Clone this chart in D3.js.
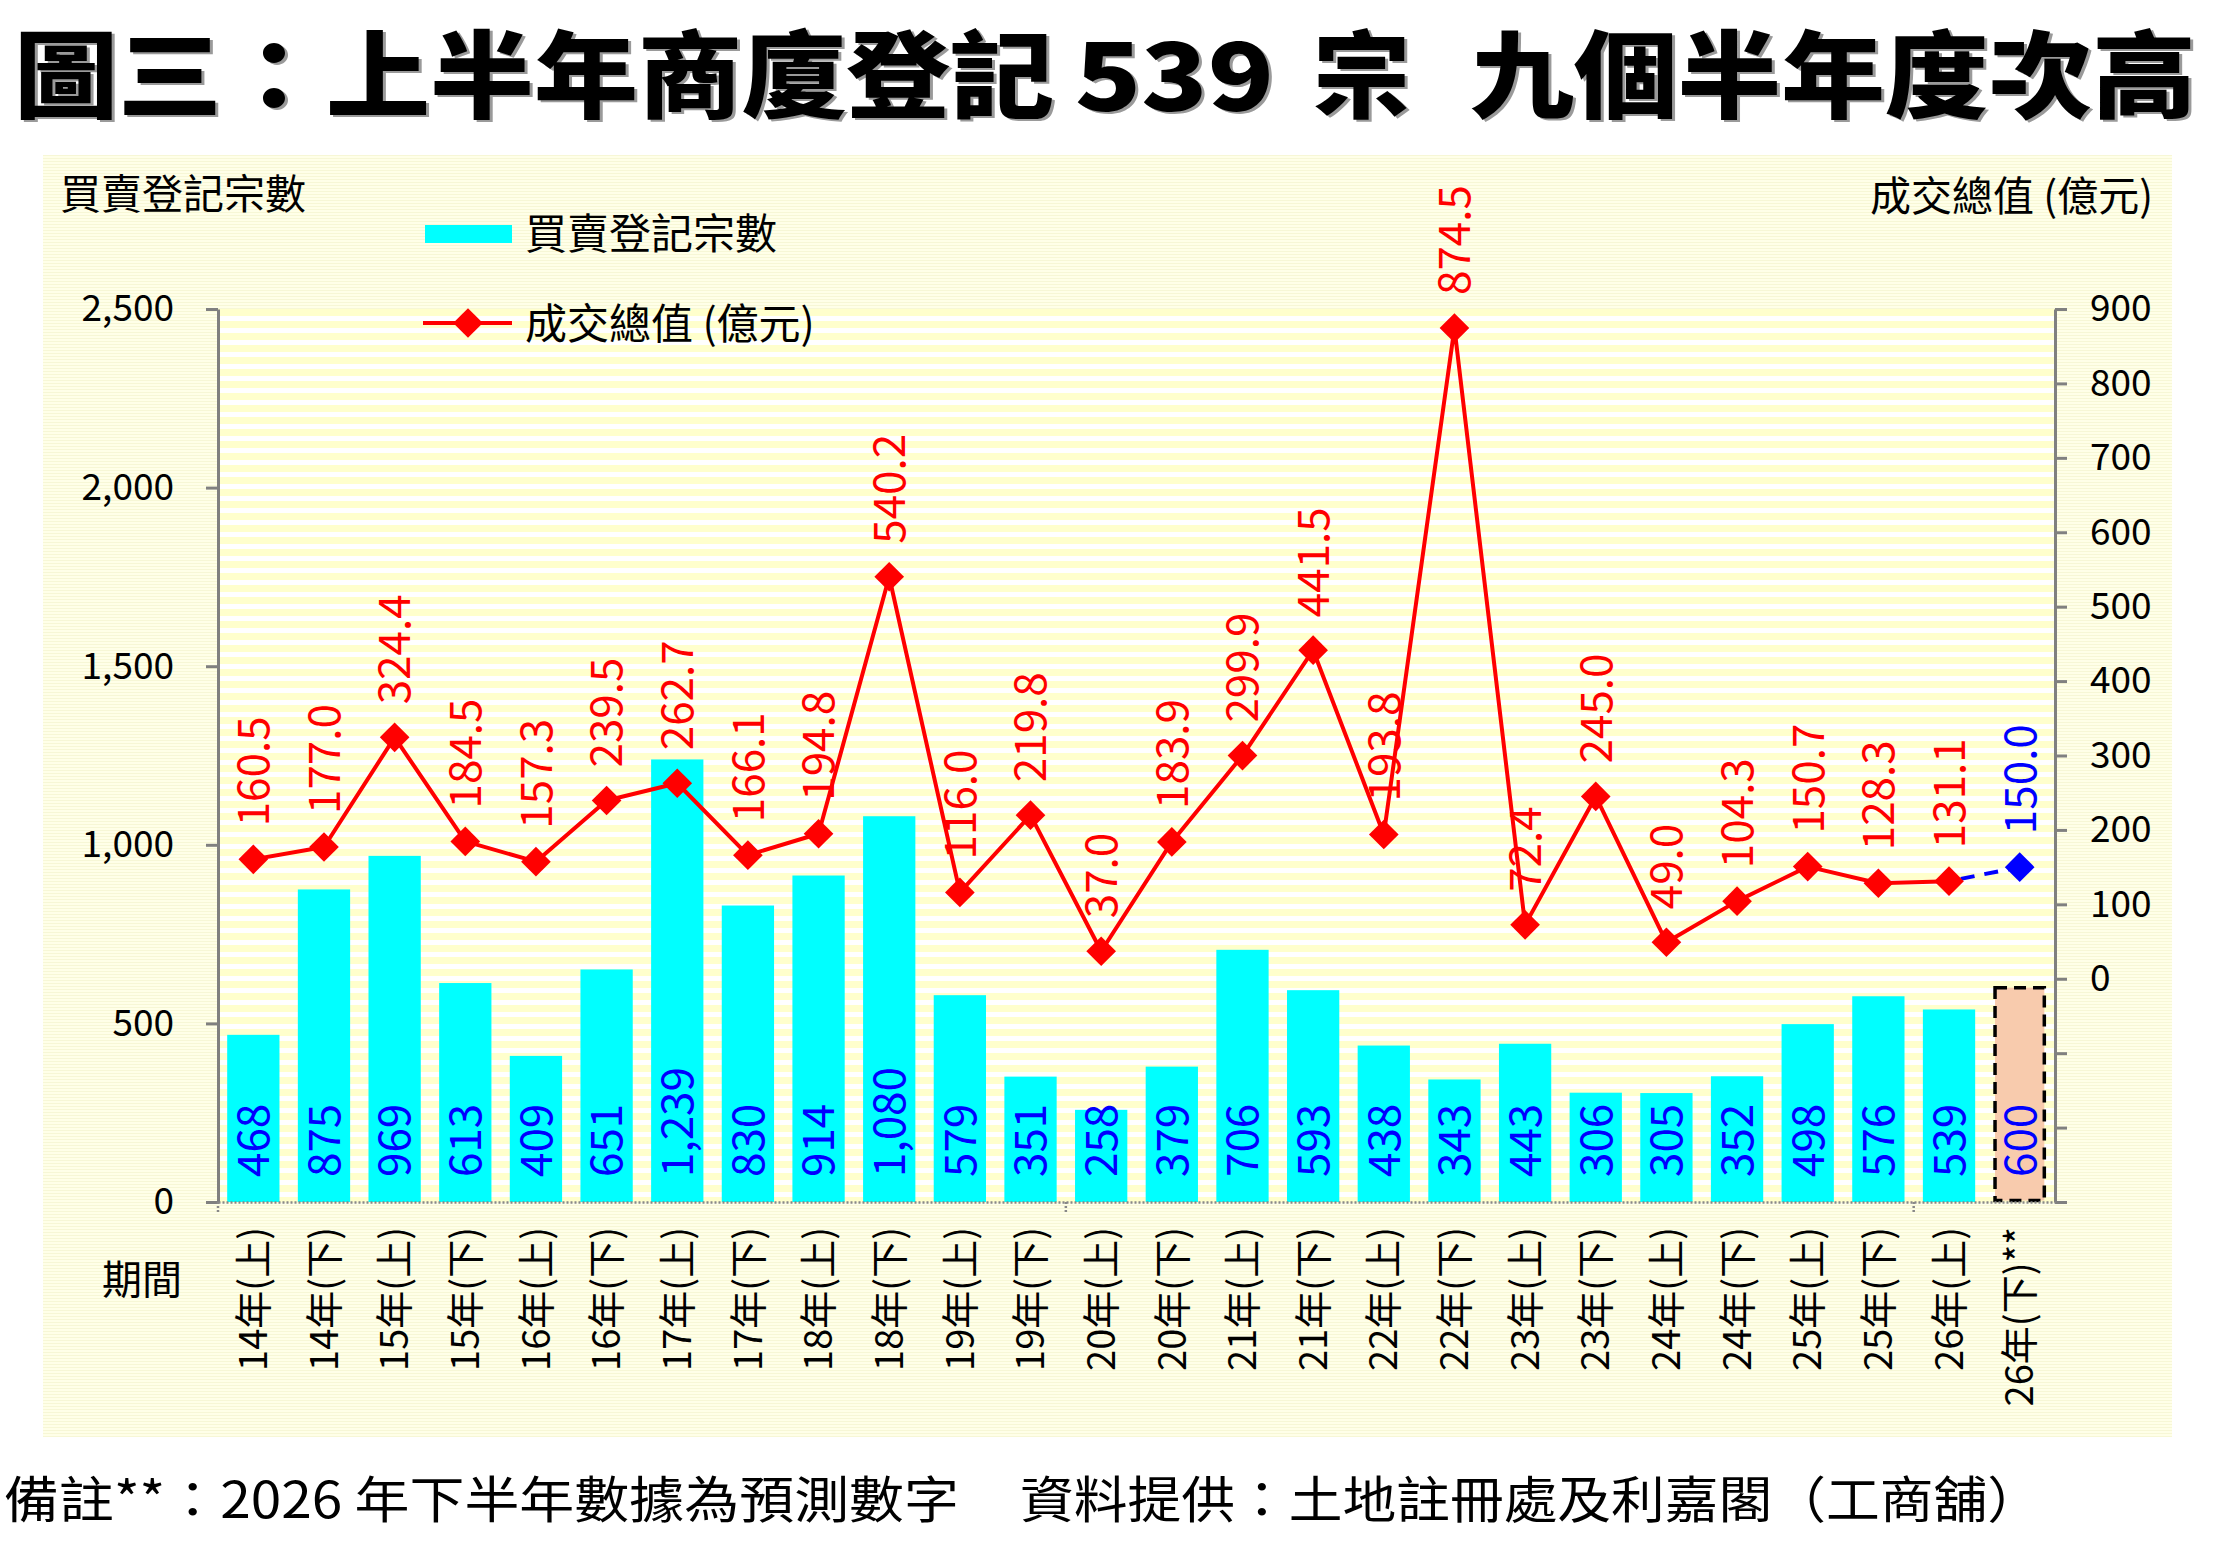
<!DOCTYPE html>
<html>
<head>
<meta charset="utf-8">
<script src="https://cdn.jsdelivr.net/npm/d3@7"></script>
<style>
  body { margin: 0; background: #fff; }
  svg { display: block; }
  text { font-family: "Noto Sans CJK TC", "Noto Sans", sans-serif; }
</style>
</head>
<body>
<svg id="chart" width="2215" height="1541"></svg>
<script>
// data (last entry = forecast)
const periods = ['14年(上)','14年(下)','15年(上)','15年(下)','16年(上)','16年(下)','17年(上)','17年(下)',
  '18年(上)','18年(下)','19年(上)','19年(下)','20年(上)','20年(下)','21年(上)','21年(下)',
  '22年(上)','22年(下)','23年(上)','23年(下)','24年(上)','24年(下)','25年(上)','25年(下)',
  '26年(上)','26年(下)**'];
const deals = [468, 875, 969, 613, 409, 651, 1239, 830, 914, 1080, 579, 351, 258, 379, 706, 593,
  438, 343, 443, 306, 305, 352, 498, 576, 539, 600];
const values = [160.5, 177.0, 324.4, 184.5, 157.3, 239.5, 262.7, 166.1, 194.8, 540.2, 116.0, 219.8,
  37.0, 183.9, 299.9, 441.5, 193.8, 874.5, 72.4, 245.0, 49.0, 104.3, 150.7, 128.3, 131.1, 150.0];
const leftTicks = [0, 500, 1000, 1500, 2000, 2500];
const rightTicks = [-300, -200, -100, 0, 100, 200, 300, 400, 500, 600, 700, 800, 900];
const minorTickBands = [0, 12, 24];

const plot = {left: 218, right: 2055, top: 309, bottom: 1202};
const svg = d3.select('#chart');
const last = periods.length - 1;

// background patterns
const defs = svg.append('defs');
const pp = defs.append('pattern').attr('id', 'panelFill')
  .attr('width', 8).attr('height', 3).attr('patternUnits', 'userSpaceOnUse');
pp.append('rect').attr('width', 8).attr('height', 3).attr('fill', '#FFFFE8');
pp.append('rect').attr('y', 2).attr('width', 8).attr('height', 1).attr('fill', '#F7F7D6');

const sp = defs.append('pattern').attr('id', 'plotFill')
  .attr('width', 8).attr('height', 12).attr('y', plot.top).attr('patternUnits', 'userSpaceOnUse');
sp.append('rect').attr('width', 8).attr('height', 12).attr('fill', '#FFFFFF');
sp.append('rect').attr('width', 8).attr('height', 7).attr('fill', '#FFFFCC');

svg.append('rect').attr('x', 43).attr('y', 155).attr('width', 2129).attr('height', 1282)
  .attr('fill', 'url(#panelFill)');
svg.append('rect').attr('x', plot.left).attr('y', plot.top)
  .attr('width', plot.right - plot.left).attr('height', plot.bottom - plot.top)
  .attr('fill', 'url(#plotFill)');

// scales
const x = d3.scaleBand().domain(periods).range([plot.left, plot.right])
  .paddingInner(0.26).paddingOuter(0.13);
const yL = d3.scaleLinear().domain([0, 2500]).range([plot.bottom, plot.top]);
const yR = d3.scaleLinear().domain([-300, 900]).range([plot.bottom, plot.top]);
const cx = p => x(p) + x.bandwidth() / 2;

// bars
svg.append('g').selectAll('rect').data(deals.slice(0, last)).join('rect')
  .attr('x', (d, i) => x(periods[i]))
  .attr('y', d => yL(d))
  .attr('width', x.bandwidth())
  .attr('height', d => yL(0) - yL(d))
  .attr('fill', '#00FFFF');

svg.append('rect')
  .attr('x', x(periods[last]) + 1.5)
  .attr('y', yL(deals[last]))
  .attr('width', x.bandwidth() - 3)
  .attr('height', yL(0) - yL(deals[last]) - 1.5)
  .attr('fill', '#F8CBAD')
  .attr('stroke', '#000').attr('stroke-width', 3.5).attr('stroke-dasharray', '12,7');

svg.append('g').selectAll('text').data(deals).join('text')
  .attr('transform', (d, i) => `translate(${cx(periods[i])},${yL(0) - 25}) rotate(-90)`)
  .attr('dy', '0.36em')
  .attr('font-size', 44)
  .attr('fill', '#0000FF')
  .text(d => d3.format(',')(d));

// axes
const styleAxis = g => {
  g.select('.domain').attr('stroke', '#808080').attr('stroke-width', 3);
  g.selectAll('.tick line').attr('stroke', '#808080').attr('stroke-width', 3);
  g.selectAll('.tick text').attr('font-size', 37).attr('fill', '#000');
};

svg.append('g').attr('transform', `translate(${plot.left},0)`)
  .call(d3.axisLeft(yL).tickValues(leftTicks).tickFormat(d3.format(','))
    .tickSizeInner(12).tickSizeOuter(0).tickPadding(32))
  .call(styleAxis);

svg.append('g').attr('transform', `translate(${plot.right},0)`)
  .call(d3.axisRight(yR).tickValues(rightTicks).tickFormat(d => d >= 0 ? d : '')
    .tickSizeInner(12).tickSizeOuter(0).tickPadding(23))
  .call(styleAxis);

const axX = svg.append('g').attr('transform', `translate(0,${plot.bottom})`)
  .call(d3.axisBottom(x).tickSize(0).tickPadding(0));
axX.select('.domain').attr('stroke', '#888').attr('stroke-width', 2.5).attr('stroke-dasharray', '2,2');
axX.selectAll('.tick text')
  .attr('transform', 'rotate(-90)')
  .attr('x', -25).attr('y', 0).attr('dy', '0.36em')
  .attr('text-anchor', 'end')
  .attr('font-size', 38)
  .attr('fill', '#000');

svg.append('g').selectAll('line').data(minorTickBands).join('line')
  .attr('x1', i => x.range()[0] + i * x.step())
  .attr('x2', i => x.range()[0] + i * x.step())
  .attr('y1', plot.bottom).attr('y2', plot.bottom + 12)
  .attr('stroke', '#888').attr('stroke-width', 2.5).attr('stroke-dasharray', '2,2');

// value line
const pts = periods.map((p, i) => ({p, v: values[i]}));
const line = d3.line().x(d => cx(d.p)).y(d => yR(d.v));

svg.append('path').datum(pts.slice(last - 1)).attr('d', line)
  .attr('fill', 'none').attr('stroke', '#0000FF').attr('stroke-width', 4)
  .attr('stroke-dasharray', '14,10').attr('stroke-dashoffset', -12);
svg.append('path').datum(pts.slice(0, last)).attr('d', line)
  .attr('fill', 'none').attr('stroke', '#FF0000').attr('stroke-width', 4)
  .attr('stroke-linejoin', 'round');

const diamond = d3.symbol().type(d3.symbolSquare).size(440);
svg.append('g').selectAll('path').data(pts).join('path')
  .attr('d', diamond)
  .attr('transform', d => `translate(${cx(d.p)},${yR(d.v)}) rotate(45)`)
  .attr('fill', (d, i) => i === last ? '#0000FF' : '#FF0000');

svg.append('g').selectAll('text').data(pts).join('text')
  .attr('transform', d => `translate(${cx(d.p)},${yR(d.v) - 33}) rotate(-90)`)
  .attr('dy', '0.36em')
  .attr('font-size', 44)
  .attr('fill', (d, i) => i === last ? '#0000FF' : '#FF0000')
  .text(d => d3.format('.1f')(d.v));

// axis titles
svg.append('text').attr('x', 60).attr('y', 209).attr('font-size', 41).text('買賣登記宗數');
svg.append('text').attr('x', 2153).attr('y', 211).attr('font-size', 41)
  .attr('text-anchor', 'end').text('成交總值 (億元)');
svg.append('text').attr('x', 142).attr('y', 1294).attr('font-size', 40)
  .attr('text-anchor', 'middle').text('期間');

// legend
const lg = svg.append('g');
lg.append('rect').attr('x', 425).attr('y', 225).attr('width', 87).attr('height', 18).attr('fill', '#00FFFF');
lg.append('text').attr('x', 525).attr('y', 249).attr('font-size', 42).text('買賣登記宗數');
lg.append('line').attr('x1', 423).attr('x2', 512).attr('y1', 323).attr('y2', 323)
  .attr('stroke', '#FF0000').attr('stroke-width', 4);
lg.append('path').attr('d', diamond).attr('transform', 'translate(468,323) rotate(45)').attr('fill', '#FF0000');
lg.append('text').attr('x', 525).attr('y', 339).attr('font-size', 42).text('成交總值 (億元)');

// title
const titleParts = [
  {t: '圖三：上半年商廈登記', x: 14, len: 1040},
  {t: '539', x: 1075, len: 199},
  {t: '宗', x: 1313, len: 97},
  {t: '九個半年度次高', x: 1470, len: 726}
];
[{dx: 3, dy: 2, c: '#9a9a9a'}, {dx: 0, dy: 0, c: '#000'}].forEach(s => {
  svg.append('g').selectAll('text').data(titleParts).join('text')
    .attr('x', d => d.x + s.dx).attr('y', 111 + s.dy)
    .attr('font-size', 95).attr('font-weight', 900)
    .attr('textLength', d => d.len).attr('lengthAdjust', 'spacingAndGlyphs')
    .attr('fill', s.c)
    .text(d => d.t);
});

// footer
svg.append('text').attr('x', 4).attr('y', 1518).attr('font-size', 50)
  .attr('textLength', 955).attr('lengthAdjust', 'spacingAndGlyphs')
  .text('備註**：2026 年下半年數據為預測數字');
svg.append('text').attr('x', 1020).attr('y', 1518).attr('font-size', 50)
  .attr('textLength', 1021).attr('lengthAdjust', 'spacingAndGlyphs')
  .text('資料提供：土地註冊處及利嘉閣（工商舖）');
</script>
</body>
</html>
